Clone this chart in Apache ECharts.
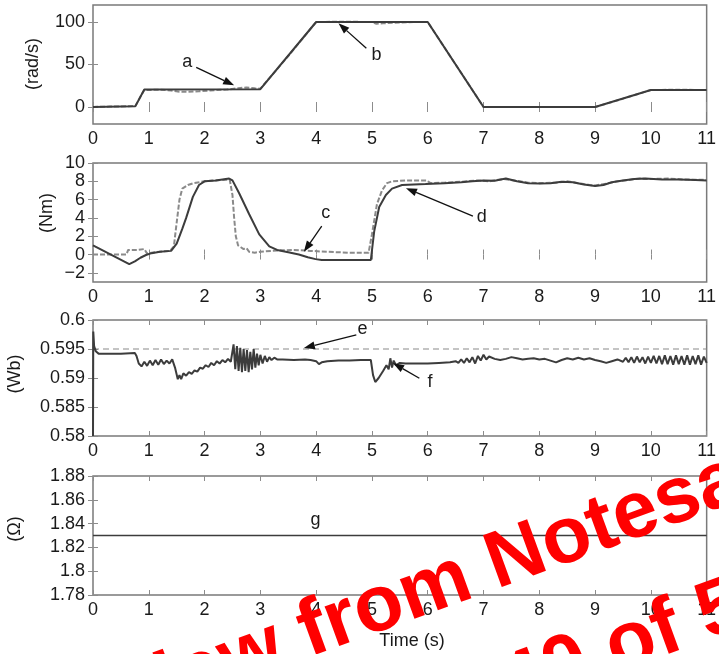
<!DOCTYPE html>
<html>
<head>
<meta charset="utf-8">
<script src="https://cdn.jsdelivr.net/npm/echarts@6/dist/echarts.min.js"></script>
<style>
  html, body { margin: 0; padding: 0; background: #fff; }
  #c { width: 719px; height: 654px; }
</style>
</head>
<body>
<div id="c"></div>
<script>
// ---- tick labels ----
const timeTicks   = [0, 1, 2, 3, 4, 5, 6, 7, 8, 9, 10, 11];
const speedTicks  = [0, 50, 100];
const torqueTicks = [-2, 0, 2, 4, 6, 8, 10];
const fluxTicks   = [0.58, 0.585, 0.59, 0.595, 0.6];
const resTicks    = [1.78, 1.8, 1.82, 1.84, 1.86, 1.88];

// ---- speed (rad/s): reference and measured ----
const speedRef = [[0,0],[0.76,1],[0.92,20.5],[3.0,21],[4.0,100],[6.0,100],[7.0,0],[9.0,0],[10.0,20],[11,20]];
const speedMeas = [[0,0],[0.3,0.5],[0.6,0.8],[0.76,1.2],[0.85,12],[0.92,20],[1.2,20.3],[1.4,19.5],[1.55,18],
  [1.7,17.8],[1.9,18.5],[2.1,19.5],[2.4,20.5],[2.6,22],[2.75,23],[2.9,22],[3.0,21.5],[3.5,60],[4.0,100],
  [4.5,100.3],[5.0,100],[5.08,98],[5.2,98.5],[5.5,99.5],[5.8,100],[6.0,100],[7.0,0],[8,0],[9,0],[9.5,9.8],
  [10,20],[10.5,20.3],[11,20]];

// ---- torque (Nm): estimated (solid) and measured (dashed) ----
const torqueSolid = [[0,1.0],[0.65,-1.05],[0.75,-0.75],[0.85,-0.35],[0.95,-0.05],[1.05,0.15],[1.2,0.3],[1.4,0.4],
  [1.5,1.2],[1.6,2.8],[1.67,4.0],[1.79,6.3],[1.9,7.6],[2.0,8.0],[2.2,8.1],[2.44,8.3],[2.5,8.1],[2.62,6.7],
  [2.8,4.4],[2.98,2.2],[3.16,0.9],[3.3,0.5],[3.5,0.25],[3.69,0.0],[3.85,-0.3],[3.99,-0.5],[4.1,-0.6],[4.5,-0.6],
  [4.98,-0.6],[5.04,2.5],[5.13,5.2],[5.25,6.5],[5.36,7.2],[5.54,7.6],[5.96,7.7],[6.3,7.8],[6.6,7.9],[6.8,8.0],
  [7.0,8.1],[7.2,8.05],[7.4,8.3],[7.6,8.0],[7.8,7.8],[8.0,7.75],[8.2,7.8],[8.4,7.95],[8.6,7.9],[8.8,7.65],
  [9.0,7.5],[9.15,7.6],[9.3,7.9],[9.5,8.1],[9.7,8.25],[9.9,8.3],[10.2,8.2],[10.5,8.2],[10.8,8.15],[11,8.1]];
const torqueDashed = [[0,0.0],[0.3,0.0],[0.6,0.0],[0.63,0.5],[0.8,0.5],[0.92,0.6],[0.97,0.1],[1.1,0.25],
  [1.25,0.35],[1.38,0.4],[1.45,0.9],[1.5,3.5],[1.55,6.0],[1.6,7.2],[1.7,7.6],[1.8,7.8],[2.0,8.0],[2.2,8.1],
  [2.45,8.2],[2.5,6.5],[2.53,4.0],[2.56,2.0],[2.6,1.0],[2.65,0.8],[2.7,0.6],[2.75,0.7],[2.8,0.3],[2.9,0.2],
  [3.0,0.3],[3.3,0.45],[3.6,0.5],[3.9,0.4],[4.2,0.3],[4.6,0.2],[4.94,0.2],[5.0,2.2],[5.09,5.5],[5.18,7.0],
  [5.27,7.8],[5.36,8.0],[5.6,8.1],[5.98,8.1],[6.05,7.8],[6.3,7.85],[6.6,7.95],[6.9,8.1],[7.1,8.0],[7.35,8.25],
  [7.6,8.05],[7.8,7.85],[8.0,7.8],[8.3,7.85],[8.5,8.0],[8.7,7.8],[8.9,7.6],[9.0,7.55],[9.2,7.75],[9.4,8.0],
  [9.6,8.15],[9.8,8.3],[10.0,8.25],[10.3,8.3],[10.6,8.2],[11,8.15]];

// ---- stator flux (Wb): reference (dashed) and estimated ----
const fluxRef = [[0,0.595],[11,0.595]];
const fluxEst = [[0,0.580],[0.005,0.598],[0.02,0.5955],[0.05,0.5946],[0.1,0.5942],[0.3,0.5942],[0.5,0.5942],
  [0.75,0.5943],[0.78,0.5938],[0.82,0.5925],[0.87,0.5920],[0.92,0.5928],[0.97,0.5921],[1.02,0.5930],[1.07,0.5922],
  [1.12,0.5931],[1.17,0.5923],[1.22,0.5932],[1.27,0.5924],[1.32,0.5930],[1.37,0.5925],[1.42,0.5932],[1.47,0.5918],
  [1.52,0.5898],[1.55,0.5905],[1.58,0.5898],[1.62,0.5908],[1.67,0.5904],[1.72,0.5910],[1.77,0.5907],[1.82,0.5913],
  [1.87,0.5911],[1.92,0.5918],[1.97,0.5916],[2.02,0.5922],[2.07,0.5919],[2.12,0.5926],[2.17,0.5922],[2.22,0.5929],
  [2.27,0.5925],[2.32,0.5931],[2.37,0.5927],[2.42,0.5933],[2.47,0.5928],[2.52,0.5958],[2.55,0.5915],[2.58,0.5955],
  [2.61,0.5912],[2.64,0.5952],[2.67,0.5910],[2.70,0.5950],[2.73,0.5912],[2.76,0.5948],[2.79,0.5910],[2.82,0.5945],
  [2.85,0.5915],[2.88,0.5950],[2.91,0.5918],[2.94,0.5942],[2.97,0.5922],[3.0,0.5940],[3.04,0.5925],[3.08,0.5938],
  [3.12,0.5928],[3.16,0.5936],[3.2,0.5931],[3.25,0.5935],[3.3,0.5932],[3.4,0.5932],[3.6,0.5931],[3.8,0.5932],
  [3.9,0.5931],[4.0,0.5929],[4.05,0.5924],[4.1,0.5927],[4.2,0.5929],[4.4,0.5930],[4.6,0.5930],[4.8,0.5931],
  [4.98,0.5931],[5.02,0.5905],[5.06,0.5893],[5.12,0.5900],[5.2,0.5912],[5.26,0.5922],[5.3,0.5915],[5.33,0.5934],
  [5.36,0.5918],[5.39,0.5930],[5.43,0.5922],[5.5,0.5926],[5.6,0.5925],[5.8,0.5925],[6.0,0.5925],[6.2,0.5926],
  [6.4,0.5927],[6.5,0.5929],[6.55,0.5926],[6.6,0.5932],[6.65,0.5926],[6.7,0.5934],[6.75,0.5927],[6.8,0.5936],
  [6.85,0.5925],[6.9,0.5938],[6.95,0.5930],[7.0,0.5940],[7.05,0.5932],[7.1,0.5937],[7.2,0.5933],[7.3,0.5931],
  [7.4,0.5933],[7.5,0.5936],[7.6,0.5934],[7.7,0.5932],[7.8,0.5933],[7.9,0.5934],[8.0,0.5932],[8.1,0.5933],
  [8.2,0.5930],[8.3,0.5927],[8.4,0.5931],[8.5,0.5934],[8.6,0.5932],[8.7,0.5935],[8.8,0.5932],[8.9,0.5934],
  [9.0,0.5931],[9.1,0.5929],[9.2,0.5926],[9.3,0.5929],[9.4,0.5932],[9.5,0.5928],[9.55,0.5935],[9.6,0.5927],
  [9.65,0.5936],[9.7,0.5926],[9.75,0.5937],[9.8,0.5927],[9.85,0.5936],[9.9,0.5925],[9.95,0.5937],[10.0,0.5926],
  [10.05,0.5938],[10.1,0.5925],[10.15,0.5938],[10.2,0.5924],[10.25,0.5939],[10.3,0.5924],[10.35,0.5938],
  [10.4,0.5923],[10.45,0.5939],[10.5,0.5924],[10.55,0.5938],[10.6,0.5923],[10.65,0.5939],[10.7,0.5923],
  [10.75,0.5938],[10.8,0.5924],[10.85,0.5939],[10.9,0.5923],[10.95,0.5937],[11.0,0.5926]];

// ---- stator resistance (Ω) ----
const resEst = [[0,1.83],[11,1.83]];

// ---- annotation letters (data coordinates of label, arrow tail, arrow tip) ----
const notes = [
  { grid: 0, label: 'a', at: [1.69, 52.6],    from: [1.85, 46.7],    to: [2.53, 25.5] },
  { grid: 0, label: 'b', at: [5.08, 60.8],    from: [4.90, 69],      to: [4.40, 98.5] },
  { grid: 1, label: 'c', at: [4.17, 4.56],    from: [4.10, 3.1],     to: [3.78, 0.3] },
  { grid: 1, label: 'd', at: [6.97, 4.1],     from: [6.81, 4.2],     to: [5.61, 7.25] },
  { grid: 2, label: 'e', at: [4.83, 0.59848], from: [4.72, 0.59744], to: [3.78, 0.59517] },
  { grid: 2, label: 'f', at: [6.04, 0.58925], from: [5.85, 0.58995], to: [5.38, 0.59256] },
  { grid: 3, label: 'g', at: [3.99, 1.843] }
];

const FONT = '"Liberation Sans", Arial, Helvetica, sans-serif';
const TXT = '#1a1a1a';
const FRAME = '#7a7a7a';
const DARK = '#3c3c3c';

const panels = [
  { top: 5,   height: 119, min: -20,  max: 120,  ticks: speedTicks,  name: '(rad/s)', nx: 33.5, ny: 64 },
  { top: 163, height: 119, min: -3,   max: 10,   ticks: torqueTicks, name: '(Nm)',    nx: 47.5, ny: 213 },
  { top: 320, height: 116, min: 0.58, max: 0.6,  ticks: fluxTicks,   name: '(Wb)',    nx: 15.5, ny: 374 },
  { top: 476, height: 119, min: 1.78, max: 1.88, ticks: resTicks,    name: '(\u03A9)', nx: 15.5, ny: 529 }
];

const grid = [], xAxis = [], yAxis = [];
panels.forEach((p, i) => {
  grid.push({ left: 93, width: 618, top: p.top, height: p.height,
              show: true, borderColor: FRAME, borderWidth: 1.5, backgroundColor: '#fff' });
  const tick = { show: true, inside: true, length: 5, lineStyle: { color: '#8c8c8c', width: 1 } };
  // bottom time axis with labels, top mirror with ticks only
  xAxis.push({ type: 'value', gridIndex: i, min: 0, max: 11, interval: 1, position: 'bottom',
    axisLine: { show: false }, splitLine: { show: false }, axisTick: tick,
    axisLabel: { fontSize: 18, color: TXT, fontFamily: FONT, margin: 6 } });
  xAxis.push({ type: 'value', gridIndex: i, min: 0, max: 11, interval: 1, position: 'top',
    axisLine: { show: false }, splitLine: { show: false }, axisTick: tick, axisLabel: { show: false } });
  yAxis.push({ type: 'value', gridIndex: i, min: p.min, max: p.max, position: 'left',
    axisLine: { show: false }, splitLine: { show: false },
    axisTick: Object.assign({}, tick, { customValues: p.ticks }),
    axisLabel: { customValues: p.ticks, fontSize: 18, color: TXT, fontFamily: FONT, margin: 8,
                 formatter: v => String(+v.toFixed(4)).replace('-', '\u2212') } });
  yAxis.push({ type: 'value', gridIndex: i, min: p.min, max: p.max, position: 'right',
    axisLine: { show: false }, splitLine: { show: false },
    axisTick: Object.assign({}, tick, { customValues: p.ticks }), axisLabel: { show: false } });
});

function line(data, gi, style, z) {
  return { type: 'line', data, xAxisIndex: gi * 2, yAxisIndex: gi * 2, showSymbol: false,
           symbol: 'none', animation: false, silent: true, z: z || 2, lineStyle: style };
}

const series = [
  line(speedMeas, 0, { color: '#8a8a8a', width: 2, type: [5, 2] }, 2),
  line(speedRef, 0, { color: DARK, width: 2 }, 3),
  line(torqueDashed, 1, { color: '#8a8a8a', width: 2, type: [5, 2] }, 2),
  line(torqueSolid, 1, { color: DARK, width: 2 }, 3),
  line(fluxRef, 2, { color: '#8a8a8a', width: 1.2, type: [6, 4] }, 2),
  line(fluxEst, 2, { color: DARK, width: 2 }, 3),
  line(resEst, 3, { color: DARK, width: 1.6 }, 3)
];

const chart = echarts.init(document.getElementById('c'), null, { renderer: 'canvas' });
chart.setOption({ animation: false, backgroundColor: '#fff', grid, xAxis, yAxis, series });

// Axis titles, annotation letters with arrows, and the preview watermark
const g = [];
panels.forEach(p => {
  g.push({ type: 'text', x: p.nx, y: p.ny, rotation: Math.PI / 2, z: 10,
    style: { text: p.name, font: '18px ' + FONT, fill: TXT, textAlign: 'center', textVerticalAlign: 'middle' } });
});
g.push({ type: 'text', x: 412, y: 641, z: 10,
  style: { text: 'Time (s)', font: '18px ' + FONT, fill: TXT, textAlign: 'center', textVerticalAlign: 'middle' } });

notes.forEach(n => {
  const at = chart.convertToPixel({ gridIndex: n.grid }, n.at);
  g.push({ type: 'text', x: at[0], y: at[1], z: 10,
    style: { text: n.label, font: '18px ' + FONT, fill: TXT, textAlign: 'center', textVerticalAlign: 'middle' } });
  if (!n.from) return;
  const a = chart.convertToPixel({ gridIndex: n.grid }, n.from);
  const b = chart.convertToPixel({ gridIndex: n.grid }, n.to);
  const dx = b[0] - a[0], dy = b[1] - a[1], L = Math.hypot(dx, dy);
  const ux = dx / L, uy = dy / L, hl = 11, hw = 4;
  const bx = b[0] - ux * hl, by = b[1] - uy * hl;
  g.push({ type: 'line', z: 10, shape: { x1: a[0], y1: a[1], x2: bx, y2: by },
    style: { stroke: '#111', lineWidth: 1.3 } });
  g.push({ type: 'polygon', z: 10,
    shape: { points: [[b[0], b[1]], [bx - uy * hw, by + ux * hw], [bx + uy * hw, by - ux * hw]] },
    style: { fill: '#111' } });
});

const wmFont = 'bold 80px ' + FONT;
const wmRot = 20 * Math.PI / 180;
g.push({ type: 'text', x: 10, y: 785, rotation: wmRot, z: 100,
  style: { text: 'Preview from Notesale.co.uk', font: wmFont, fill: '#ff0000',
           textAlign: 'left', textVerticalAlign: 'bottom' } });
g.push({ type: 'text', x: 275, y: 816, rotation: wmRot, z: 100,
  style: { text: 'Page 340 of 5', font: wmFont, fill: '#ff0000',
           textAlign: 'left', textVerticalAlign: 'bottom' } });

chart.setOption({ graphic: { elements: g } });
</script>
</body>
</html>
